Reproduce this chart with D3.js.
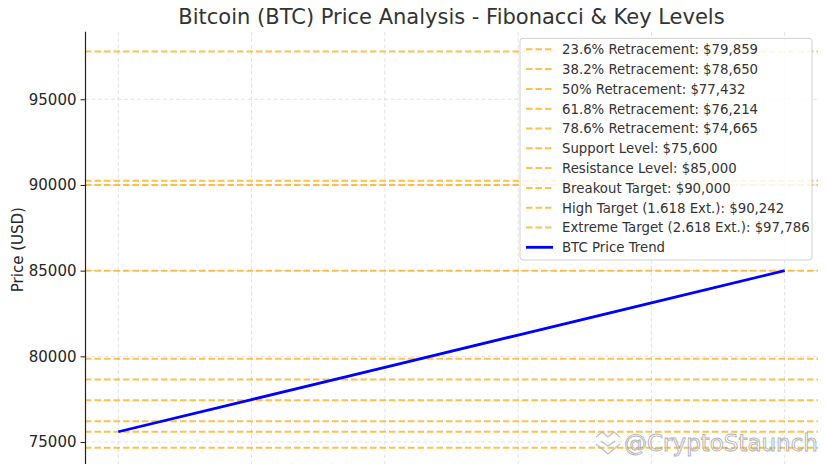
<!DOCTYPE html>
<html><head><meta charset="utf-8">
<script src="https://cdn.jsdelivr.net/npm/d3@7"></script>
<style>html,body{margin:0;padding:0;background:#fff;}svg{display:block;font-family:"DejaVu Sans",sans-serif;}</style>
</head><body>
<svg id="c" width="828" height="464"></svg>
<script>
const titleText = "Bitcoin (BTC) Price Analysis - Fibonacci & Key Levels";
const yLabel = "Price (USD)";
const levelNames = ["23.6% Retracement","38.2% Retracement","50% Retracement","61.8% Retracement","78.6% Retracement","Support Level","Resistance Level","Breakout Target","High Target (1.618 Ext.)","Extreme Target (2.618 Ext.)"];
const levelValues = [79859,78650,77432,76214,74665,75600,85000,90000,90242,97786];
const trendX = [0,1,2,3,4,5];
const trendValues = [75600,77480,79360,81240,83120,85000];
const trendName = "BTC Price Trend";
const yTicks = [75000,80000,85000,90000,95000];
const watermark = "@CryptoStaunch";

const svg = d3.select("#c");
const L = 85, R = 818, T = 31.7, B = 467.6;
const yMin = 74665, yMax = 97786, pad = (yMax - yMin) * 0.05;
const x = d3.scaleLinear().domain([-0.25, 5.25]).range([L, R]);
const y = d3.scaleLinear().domain([yMin - pad, yMax + pad]).range([B, T]);

// grid
svg.append("g").selectAll("line").data(trendX).join("line")
  .attr("x1", d => x(d)).attr("x2", d => x(d)).attr("y1", T).attr("y2", B)
  .attr("stroke", "#dcdcdc").attr("stroke-width", 0.8).attr("stroke-dasharray", "4,2.5");
svg.append("g").selectAll("line").data(yTicks).join("line")
  .attr("x1", L).attr("x2", R).attr("y1", d => y(d)).attr("y2", d => y(d))
  .attr("stroke", "#dcdcdc").attr("stroke-width", 0.8).attr("stroke-dasharray", "4,2.5");

// levels
svg.append("g").selectAll("line").data(levelValues).join("line")
  .attr("x1", L).attr("x2", R).attr("y1", d => y(d)).attr("y2", d => y(d))
  .attr("stroke", "orange").attr("stroke-opacity", 0.7).attr("stroke-width", 2)
  .attr("stroke-dasharray", "6.5,3");

// trend
const line = d3.line().x((d, i) => x(trendX[i])).y(d => y(d));
svg.append("path").datum(trendValues).attr("d", line)
  .attr("fill", "none").attr("stroke", "#0000ff").attr("stroke-width", 2.8);

// axis
const ax = svg.append("g").attr("transform", `translate(${L},0)`)
  .call(d3.axisLeft(y).tickValues(yTicks).tickFormat(d3.format("d")).tickSize(4.5).tickPadding(4));
ax.select(".domain").attr("d", `M0.5,${T}V${B}`).attr("stroke", "#222").attr("stroke-width", 1.2);
ax.selectAll(".tick line").attr("stroke", "#222").attr("stroke-width", 1);
ax.selectAll(".tick text").attr("font-size", "15px").attr("fill", "#262626").attr("font-family", "DejaVu Sans");

svg.append("text").attr("transform", `translate(22.5,${(T + B) / 2}) rotate(-90)`)
  .attr("text-anchor", "middle").attr("font-size", "15px").attr("fill", "#262626").text(yLabel);

svg.append("text").attr("x", (L + R) / 2).attr("y", 24).attr("text-anchor", "middle")
  .attr("font-size", "21px").attr("fill", "#333").text(titleText);

// legend
const lg = svg.append("g");
lg.append("rect").attr("x", 520).attr("y", 38.3).attr("width", 292).attr("height", 221.7)
  .attr("rx", 3).attr("fill", "#fff").attr("fill-opacity", 0.85).attr("stroke", "#d0d0d0").attr("stroke-width", 1);
const items = levelNames.map((n, i) => ({ label: `${n}: $${d3.format(",")(levelValues[i])}`, dash: true }))
  .concat([{ label: trendName, dash: false }]);
const row = lg.selectAll("g.row").data(items).join("g").attr("class", "row")
  .attr("transform", (d, i) => `translate(0,${49.3 + i * 19.8})`);
row.append("line").attr("x1", 526).attr("x2", 553).attr("y1", 0).attr("y2", 0)
  .attr("stroke", d => d.dash ? "orange" : "#0000ff").attr("stroke-opacity", d => d.dash ? 0.7 : 1)
  .attr("stroke-width", d => d.dash ? 2 : 2.8).attr("stroke-dasharray", d => d.dash ? "6.5,3" : null);
row.append("text").attr("x", 562).attr("y", 4.8).attr("font-size", "13.3px").attr("fill", "#333").text(d => d.label);

// watermark
const wm = svg.append("g").attr("opacity", 0.75);
wm.append("path").attr("d", "M596,437 l6,-5 l6,5 l6,-5 l6,5 M596,444 l12,10 l12,-10 M601,441 l7,5 l7,-5")
  .attr("fill", "none").attr("stroke", "#aaa").attr("stroke-width", 1.3);
wm.append("text").attr("x", 624).attr("y", 451).attr("font-size", "23px").attr("fill", "#fff").attr("fill-opacity", 0.6)
  .attr("stroke", "#999").attr("stroke-width", 0.9).text(watermark);
</script>
</body></html>
